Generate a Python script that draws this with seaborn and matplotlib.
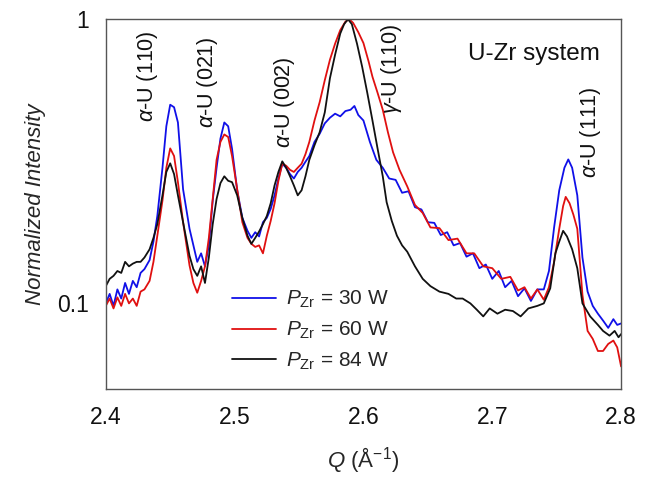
import numpy as np
import pandas as pd
import matplotlib
matplotlib.use('Agg')
import matplotlib.pyplot as plt
import seaborn as sns
from matplotlib.ticker import FixedLocator, FixedFormatter, NullLocator

# ---- data (Q in 1/Angstrom, normalized intensity) ----
q_30 = [2.400, 2.403, 2.406, 2.409, 2.412, 2.415, 2.418, 2.421, 2.424, 2.427,
        2.430, 2.434, 2.437, 2.440, 2.444, 2.447, 2.450, 2.453, 2.456, 2.460,
        2.465, 2.468, 2.471, 2.474, 2.477, 2.480, 2.483, 2.486, 2.489, 2.492,
        2.495, 2.498, 2.502, 2.506, 2.510, 2.513, 2.516, 2.519, 2.522, 2.525,
        2.528, 2.531, 2.534, 2.537, 2.540, 2.543, 2.546, 2.549, 2.552, 2.555,
        2.558, 2.562, 2.566, 2.570, 2.574, 2.578, 2.582, 2.586, 2.590, 2.593,
        2.596, 2.600, 2.605, 2.610, 2.615, 2.620, 2.625, 2.630, 2.635, 2.640,
        2.645, 2.650, 2.655, 2.660, 2.665, 2.670, 2.675, 2.680, 2.685, 2.690,
        2.695, 2.700, 2.705, 2.710, 2.715, 2.720, 2.725, 2.730, 2.735, 2.740,
        2.744, 2.748, 2.752, 2.756, 2.759, 2.762, 2.766, 2.770, 2.774, 2.778,
        2.782, 2.786, 2.790, 2.794, 2.797, 2.800]
i_30 = [0.100, 0.108, 0.098, 0.112, 0.104, 0.118, 0.108, 0.120, 0.114, 0.128,
        0.132, 0.142, 0.165, 0.203, 0.300, 0.420, 0.500, 0.490, 0.433, 0.252,
        0.183, 0.160, 0.140, 0.150, 0.135, 0.160, 0.230, 0.300, 0.380, 0.433,
        0.420, 0.350, 0.250, 0.200, 0.180, 0.170, 0.178, 0.172, 0.193, 0.200,
        0.215, 0.240, 0.275, 0.310, 0.300, 0.285, 0.275, 0.290, 0.300, 0.315,
        0.330, 0.370, 0.395, 0.430, 0.450, 0.465, 0.455, 0.475, 0.480, 0.495,
        0.460, 0.440, 0.370, 0.320, 0.300, 0.275, 0.272, 0.245, 0.248, 0.218,
        0.214, 0.193, 0.192, 0.174, 0.178, 0.160, 0.163, 0.146, 0.150, 0.133,
        0.137, 0.122, 0.130, 0.114, 0.120, 0.106, 0.113, 0.102, 0.112, 0.112,
        0.130, 0.185, 0.250, 0.300, 0.321, 0.300, 0.240, 0.145, 0.110, 0.098,
        0.092, 0.087, 0.082, 0.088, 0.084, 0.085]

q_60 = [2.400, 2.403, 2.406, 2.409, 2.412, 2.415, 2.418, 2.421, 2.424, 2.427,
        2.430, 2.434, 2.437, 2.440, 2.444, 2.447, 2.450, 2.453, 2.456, 2.460,
        2.465, 2.468, 2.471, 2.474, 2.477, 2.480, 2.483, 2.486, 2.489, 2.492,
        2.495, 2.498, 2.502, 2.506, 2.510, 2.513, 2.516, 2.519, 2.522, 2.525,
        2.528, 2.531, 2.534, 2.537, 2.540, 2.543, 2.546, 2.549, 2.552, 2.555,
        2.558, 2.562, 2.566, 2.570, 2.574, 2.578, 2.582, 2.586, 2.589, 2.592,
        2.596, 2.600, 2.604, 2.607, 2.611, 2.615, 2.619, 2.623, 2.628, 2.634,
        2.640, 2.646, 2.652, 2.659, 2.666, 2.673, 2.680, 2.686, 2.693, 2.700,
        2.707, 2.714, 2.720, 2.725, 2.730, 2.735, 2.740, 2.744, 2.748, 2.752,
        2.755, 2.757, 2.760, 2.763, 2.766, 2.770, 2.774, 2.778, 2.782, 2.786,
        2.790, 2.794, 2.797, 2.800]
i_60 = [0.098, 0.104, 0.096, 0.105, 0.098, 0.108, 0.100, 0.104, 0.098, 0.110,
        0.112, 0.120, 0.140, 0.173, 0.230, 0.300, 0.351, 0.330, 0.267, 0.193,
        0.136, 0.118, 0.109, 0.120, 0.135, 0.170, 0.233, 0.320, 0.370, 0.393,
        0.385, 0.330, 0.252, 0.193, 0.170, 0.162, 0.158, 0.160, 0.150, 0.173,
        0.195, 0.225, 0.270, 0.310, 0.305, 0.295, 0.290, 0.300, 0.310, 0.335,
        0.370, 0.440, 0.510, 0.610, 0.720, 0.820, 0.915, 0.980, 1.000, 0.970,
        0.900, 0.824, 0.710, 0.627, 0.550, 0.480, 0.400, 0.340, 0.295, 0.258,
        0.222, 0.208, 0.185, 0.184, 0.167, 0.169, 0.150, 0.150, 0.135, 0.133,
        0.122, 0.124, 0.111, 0.114, 0.104, 0.112, 0.103, 0.114, 0.140, 0.183,
        0.220, 0.237, 0.225, 0.205, 0.183, 0.107, 0.080, 0.075, 0.068, 0.068,
        0.072, 0.074, 0.070, 0.060]

q_84 = [2.400, 2.403, 2.406, 2.409, 2.412, 2.415, 2.418, 2.421, 2.424, 2.427,
        2.430, 2.434, 2.437, 2.440, 2.444, 2.447, 2.450, 2.453, 2.456, 2.460,
        2.465, 2.468, 2.471, 2.474, 2.477, 2.480, 2.483, 2.486, 2.489, 2.492,
        2.495, 2.498, 2.502, 2.506, 2.510, 2.513, 2.516, 2.519, 2.522, 2.525,
        2.528, 2.531, 2.534, 2.537, 2.540, 2.543, 2.546, 2.549, 2.552, 2.555,
        2.558, 2.562, 2.566, 2.570, 2.574, 2.578, 2.582, 2.585, 2.588, 2.591,
        2.595, 2.599, 2.603, 2.607, 2.611, 2.615, 2.618, 2.622, 2.626, 2.630,
        2.634, 2.640, 2.646, 2.652, 2.659, 2.666, 2.672, 2.677, 2.683, 2.688,
        2.693, 2.698, 2.704, 2.710, 2.716, 2.722, 2.728, 2.735, 2.740, 2.745,
        2.749, 2.752, 2.755, 2.758, 2.762, 2.766, 2.770, 2.776, 2.782, 2.786,
        2.791, 2.795, 2.798, 2.800]
i_84 = [0.115, 0.122, 0.125, 0.130, 0.128, 0.140, 0.135, 0.138, 0.140, 0.140,
        0.145, 0.155, 0.170, 0.190, 0.240, 0.290, 0.311, 0.285, 0.240, 0.193,
        0.147, 0.132, 0.125, 0.135, 0.118, 0.145, 0.190, 0.233, 0.265, 0.280,
        0.270, 0.267, 0.240, 0.200, 0.173, 0.162, 0.170, 0.179, 0.190, 0.203,
        0.225, 0.260, 0.290, 0.316, 0.300, 0.280, 0.260, 0.240, 0.250, 0.280,
        0.320, 0.360, 0.400, 0.470, 0.620, 0.750, 0.890, 0.960, 1.000, 0.960,
        0.820, 0.680, 0.550, 0.440, 0.350, 0.280, 0.227, 0.195, 0.173, 0.160,
        0.152, 0.135, 0.122, 0.115, 0.110, 0.108, 0.104, 0.104, 0.100, 0.095,
        0.090, 0.096, 0.092, 0.095, 0.094, 0.090, 0.096, 0.098, 0.100, 0.113,
        0.150, 0.165, 0.180, 0.172, 0.155, 0.133, 0.100, 0.090, 0.084, 0.080,
        0.077, 0.080, 0.076, 0.078]

series_labels = [r'$P_{\mathrm{Zr}}$ = 30 W', r'$P_{\mathrm{Zr}}$ = 60 W', r'$P_{\mathrm{Zr}}$ = 84 W']
series_colors = ['#1010e8', '#e01010', '#111111']

peak_labels = [r'$\alpha$-U (110)', r'$\alpha$-U (021)', r'$\alpha$-U (002)',
               r'$\gamma$-U (110)', r'$\alpha$-U (111)']
peak_q = [2.432, 2.479, 2.539, 2.622, 2.776]
peak_y = [0.63, 0.60, 0.51, 0.67, 0.40]

x_ticks = [2.4, 2.5, 2.6, 2.7, 2.8]

# long-form frame for seaborn
df = pd.concat([
    pd.DataFrame({'Q': q_30, 'I': i_30, 'series': series_labels[0]}),
    pd.DataFrame({'Q': q_60, 'I': i_60, 'series': series_labels[1]}),
    pd.DataFrame({'Q': q_84, 'I': i_84, 'series': series_labels[2]}),
], ignore_index=True)

sns.set_theme(style='white')
plt.rcParams['font.family'] = ['Liberation Sans', 'DejaVu Sans']
plt.rcParams['mathtext.fontset'] = 'custom'
plt.rcParams['mathtext.rm'] = 'Liberation Sans'
plt.rcParams['mathtext.it'] = 'Liberation Sans:italic'

fig = plt.figure(figsize=(6.49, 4.79), dpi=100)
ax = fig.add_axes([0.163, 0.188, 0.794, 0.772])

sns.lineplot(data=df, x='Q', y='I', hue='series', hue_order=series_labels,
             palette=series_colors, linewidth=1.3, sort=False, ax=ax)

ax.set_yscale('log')
ax.set_xlim(2.4, 2.8)
ax.set_ylim(0.05, 1.0)

ax.xaxis.set_major_locator(FixedLocator(x_ticks))
ax.set_xticklabels([f'{t:.1f}' for t in x_ticks])
ax.yaxis.set_major_locator(FixedLocator([0.1, 1.0]))
ax.yaxis.set_major_formatter(FixedFormatter(['0.1', '1']))
ax.yaxis.set_minor_locator(NullLocator())
ax.tick_params(axis='x', direction='in', length=5, width=1, color='#555555',
               labelsize=16.5, pad=12, labelcolor='#111111')
ax.tick_params(axis='y', length=0, labelsize=16.5, pad=12, labelcolor='#111111')

for s in ax.spines.values():
    s.set_color('#555555')
    s.set_linewidth(1.0)

ax.set_xlabel(r'$Q$ ($\mathrm{\AA}^{-1}$)', fontsize=16, labelpad=12)
ax.set_ylabel('Normalized Intensity', fontsize=16, style='italic', labelpad=8)

for txt, qx, yy in zip(peak_labels, peak_q, peak_y):
    ax.text(qx, yy, txt, rotation=90, ha='center', va='center',
            fontsize=15.5, color='#111111')

ax.text(0.83, 0.905, 'U-Zr system', transform=ax.transAxes, ha='center',
        va='center', fontsize=17.5, color='#111111')

handles, labels = ax.get_legend_handles_labels()
ax.legend(handles, labels, loc='center', bbox_to_anchor=(0.397, 0.158),
          frameon=False, fontsize=15, handlelength=2.1, handletextpad=0.5,
          labelspacing=0.45)

fig.savefig('out.png', dpi=100)
